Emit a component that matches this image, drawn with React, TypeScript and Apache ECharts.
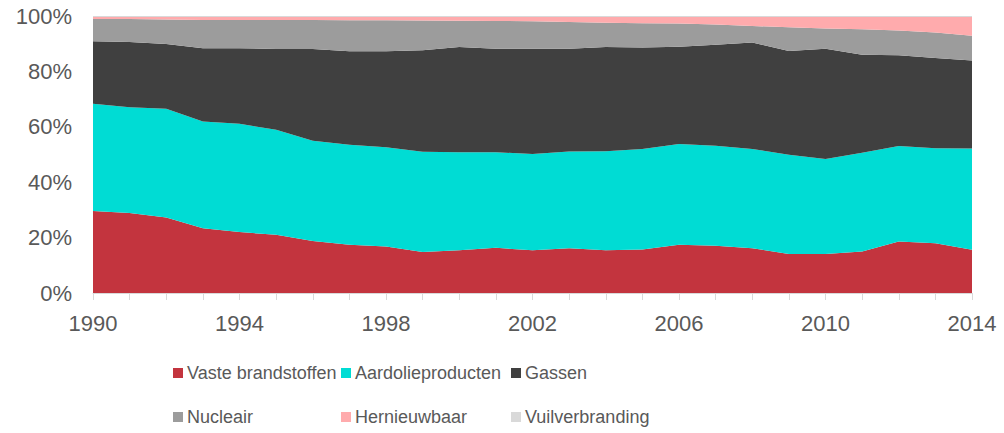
import React, { useEffect, useRef } from "react";
import * as echarts from "echarts";

const years = [
  "1990", "1991", "1992", "1993", "1994", "1995", "1996", "1997", "1998", "1999",
  "2000", "2001", "2002", "2003", "2004", "2005", "2006", "2007", "2008", "2009",
  "2010", "2011", "2012", "2013", "2014",
];

const vasteBrandstoffen = [29.6, 28.9, 27.3, 23.4, 22.0, 21.0, 18.8, 17.4, 16.8, 14.8, 15.4, 16.3, 15.4, 16.2, 15.4, 15.7, 17.4, 17.1, 16.2, 14.1, 14.1, 15.0, 18.6, 18.0, 15.6];
const aardolieproducten = [38.7, 38.2, 39.2, 38.5, 39.1, 37.9, 36.2, 36.1, 35.8, 36.2, 35.4, 34.5, 34.8, 34.9, 35.8, 36.3, 36.4, 36.1, 35.8, 35.8, 34.3, 35.6, 34.5, 34.3, 36.6];
const gassen = [22.6, 23.5, 23.4, 26.5, 27.3, 29.2, 33.1, 33.8, 34.7, 36.6, 38.0, 37.4, 38.0, 37.1, 37.6, 36.6, 35.1, 36.4, 38.4, 37.5, 39.8, 35.4, 32.7, 32.5, 31.7];
const nucleair = [8.0, 8.3, 8.8, 10.2, 10.2, 10.5, 10.5, 11.2, 11.2, 10.8, 9.5, 10.0, 9.9, 9.6, 8.8, 8.8, 8.4, 7.3, 6.0, 8.5, 7.3, 9.2, 9.0, 9.2, 9.0];
const hernieuwbaar = [0.7, 0.7, 0.9, 1.0, 1.0, 1.0, 1.0, 1.1, 1.1, 1.2, 1.3, 1.4, 1.5, 1.8, 2.0, 2.2, 2.3, 2.7, 3.2, 3.7, 4.1, 4.4, 4.8, 5.6, 6.7];
const vuilverbranding = [0.4, 0.4, 0.4, 0.4, 0.4, 0.4, 0.4, 0.4, 0.4, 0.4, 0.4, 0.4, 0.4, 0.4, 0.4, 0.4, 0.4, 0.4, 0.4, 0.4, 0.4, 0.4, 0.4, 0.4, 0.4];

const seriesDefs = [
  { name: "Vaste brandstoffen", data: vasteBrandstoffen, color: "#C3343E" },
  { name: "Aardolieproducten", data: aardolieproducten, color: "#00DCD4" },
  { name: "Gassen", data: gassen, color: "#404040" },
  { name: "Nucleair", data: nucleair, color: "#9C9C9C" },
  { name: "Hernieuwbaar", data: hernieuwbaar, color: "#FFABAD" },
  { name: "Vuilverbranding", data: vuilverbranding, color: "#D9D9D9" },
];

// legend grid: 3 columns x 2 rows, in series order
const legendColLefts = [173, 341, 511];
const legendRowTops = [364, 408];

const axisFont = "'Liberation Sans', Arial, sans-serif";

export default function App() {
  const ref = useRef<HTMLDivElement>(null);

  useEffect(() => {
    if (!ref.current) return;
    const chart = echarts.init(ref.current, undefined, { renderer: "svg" });
    chart.setOption({
      animation: false,
      grid: { left: 93, right: 32, top: 16, bottom: 140, containLabel: false },
      legend: seriesDefs.map((s, i) => ({
        data: [s.name],
        orient: "horizontal",
        left: legendColLefts[i % 3],
        top: legendRowTops[Math.floor(i / 3)],
        padding: 0,
        itemWidth: 10,
        itemHeight: 10,
        icon: "rect",
        selectedMode: false,
        textStyle: {
          fontFamily: axisFont,
          fontSize: 18,
          color: "#595959",
          padding: [0, 0, 0, -1],
        },
      })),
      xAxis: {
        type: "category",
        data: years,
        boundaryGap: false,
        axisLine: { lineStyle: { color: "#D9D9D9", width: 1 } },
        axisTick: { show: true, interval: 0, length: 7, lineStyle: { color: "#D9D9D9" } },
        axisLabel: {
          interval: 3,
          margin: 19,
          fontFamily: axisFont,
          fontSize: 22,
          color: "#595959",
        },
        splitLine: { show: false },
      },
      yAxis: {
        type: "value",
        min: 0,
        max: 100,
        interval: 20,
        axisLine: { show: false },
        axisTick: { show: false },
        splitLine: { show: false },
        axisLabel: {
          formatter: "{value}%",
          margin: 21,
          fontFamily: axisFont,
          fontSize: 22,
          color: "#595959",
        },
      },
      series: seriesDefs.map((s) => ({
        name: s.name,
        type: "line",
        stack: "total",
        data: s.data,
        showSymbol: false,
        symbol: "none",
        lineStyle: { width: 0 },
        itemStyle: { color: s.color },
        areaStyle: { color: s.color, opacity: 1 },
      })),
    });
    return () => chart.dispose();
  }, []);

  return <div ref={ref} style={{ width: 1004, height: 433, position: "absolute", left: 0, top: 0 }} />;
}
